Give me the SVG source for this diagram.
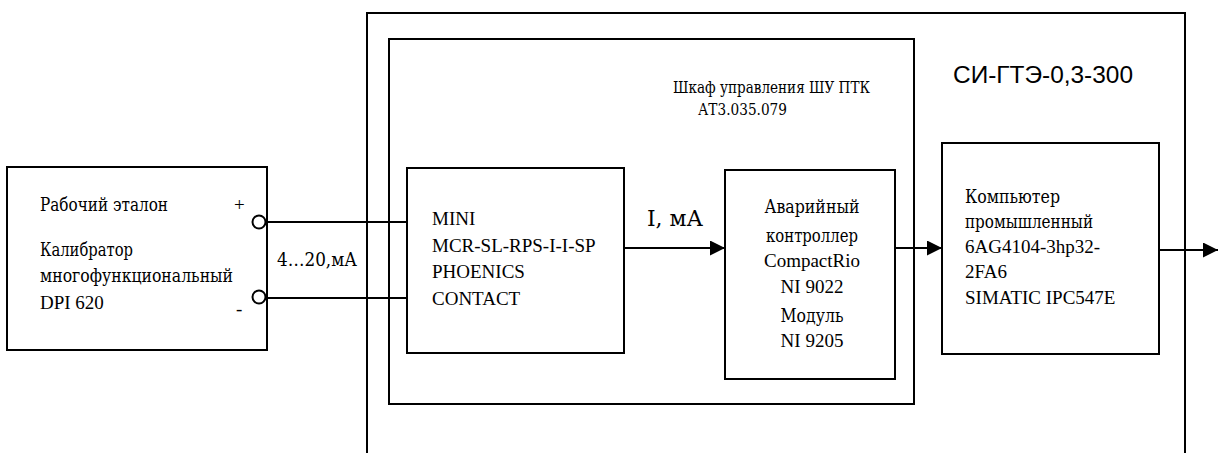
<svg xmlns="http://www.w3.org/2000/svg" width="1218" height="453" viewBox="0 0 1218 453">
  <style>
    .box { fill: none; stroke: #000; stroke-width: 2; }
    .wire { fill: none; stroke: #000; stroke-width: 2; }
    .t { font-family: "Liberation Serif", "Times New Roman", serif; font-size: 19px; fill: #000; }
    .cy { font-family: "DejaVu Serif", "Liberation Serif", serif; font-size: 18px; }
    .tc { text-anchor: middle; }
    .title { font-family: "Liberation Sans", "DejaVu Sans", sans-serif; font-size: 24.5px; fill: #000; }
    .small { font-size: 16px; }
    .big { font-size: 22px; }
  </style>
  <defs>
    <marker id="arrow" markerUnits="userSpaceOnUse" markerWidth="16" markerHeight="16" refX="15" refY="7.5" orient="auto">
      <path d="M0,0 L15,7.5 L0,15 Z" fill="#000"/>
    </marker>
  </defs>

  <g id="system">
    <path class="box" d="M367,453 V13 H1185 V453"/>
    <text class="title" x="953" y="83" textLength="180" lengthAdjust="spacingAndGlyphs">СИ-ГТЭ-0,3-300</text>
  </g>

  <g id="cabinet">
    <rect class="box" x="389" y="39" width="525" height="365"/>
    <text class="t cy small" x="673" y="93" textLength="197" lengthAdjust="spacingAndGlyphs">Шкаф управления ШУ ПТК</text>
    <text class="t cy small" x="698" y="115" textLength="89" lengthAdjust="spacingAndGlyphs">АТ3.035.079</text>
  </g>

  <g id="calibrator">
    <rect class="box" x="7" y="167" width="260" height="183"/>
    <text class="t cy" x="40" y="211" textLength="128" lengthAdjust="spacingAndGlyphs">Рабочий эталон</text>
    <text class="t cy" x="40" y="256" textLength="93" lengthAdjust="spacingAndGlyphs">Калибратор</text>
    <text class="t cy" x="40" y="282" textLength="193" lengthAdjust="spacingAndGlyphs">многофункциональный</text>
    <text class="t" x="40" y="309">DPI 620</text>
    <text class="t" x="234" y="211">+</text>
    <text class="t" x="236" y="315">-</text>
    <circle class="box" cx="259" cy="222" r="6.5" fill="#fff"/>
    <circle class="box" cx="259" cy="297" r="6.5" fill="#fff"/>
  </g>

  <g id="converter">
    <rect class="box" x="407" y="168" width="217" height="185"/>
    <text class="t" x="432" y="225">MINI</text>
    <text class="t" x="432" y="252">MCR-SL-RPS-I-I-SP</text>
    <text class="t" x="432" y="278">PHOENICS</text>
    <text class="t" x="432" y="305">CONTACT</text>
  </g>

  <g id="controller">
    <rect class="box" x="725" y="170" width="170" height="209"/>
    <text class="t cy tc" x="812" y="213" textLength="95" lengthAdjust="spacingAndGlyphs">Аварийный</text>
    <text class="t cy tc" x="812" y="242" textLength="92" lengthAdjust="spacingAndGlyphs">контроллер</text>
    <text class="t tc" x="812" y="267">CompactRio</text>
    <text class="t tc" x="812" y="293">NI 9022</text>
    <text class="t cy tc" x="812" y="322" textLength="63" lengthAdjust="spacingAndGlyphs">Модуль</text>
    <text class="t tc" x="812" y="347">NI 9205</text>
  </g>

  <g id="computer">
    <rect class="box" x="942" y="143" width="217" height="211"/>
    <text class="t cy" x="965" y="203" textLength="95" lengthAdjust="spacingAndGlyphs">Компьютер</text>
    <text class="t cy" x="965" y="228" textLength="128" lengthAdjust="spacingAndGlyphs">промышленный</text>
    <text class="t" x="965" y="253">6AG4104-3hp32-</text>
    <text class="t" x="965" y="278">2FA6</text>
    <text class="t" x="965" y="304">SIMATIC IPC547E</text>
  </g>

  <g id="connectors">
    <line class="wire" x1="266" y1="222" x2="407" y2="222"/>
    <line class="wire" x1="266" y1="298" x2="407" y2="298"/>
    <line class="wire" x1="624" y1="248" x2="725" y2="248" marker-end="url(#arrow)"/>
    <line class="wire" x1="895" y1="248" x2="942" y2="248" marker-end="url(#arrow)"/>
    <line class="wire" x1="1159" y1="250" x2="1218" y2="250" marker-end="url(#arrow)"/>
    <text class="t cy" x="277" y="266" textLength="80" lengthAdjust="spacingAndGlyphs">4…20,мА</text>
    <text class="t cy big" x="647" y="226" textLength="56" lengthAdjust="spacingAndGlyphs">I, мА</text>
  </g>
</svg>
